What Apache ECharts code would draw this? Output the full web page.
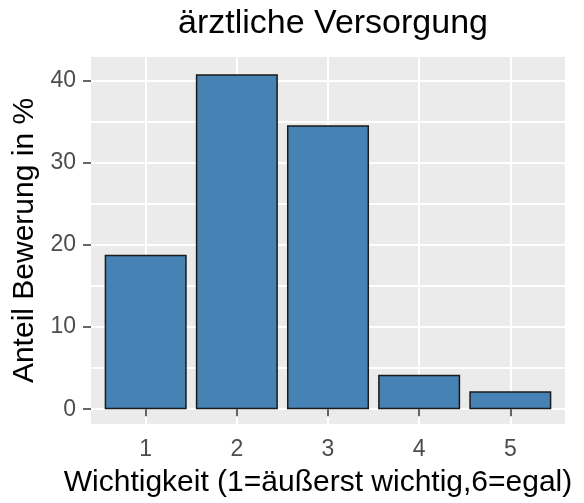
<!DOCTYPE html>
<html lang="de">
<head>
  <meta charset="UTF-8">
  <title>ärztliche Versorgung</title>
  <script src="https://cdn.jsdelivr.net/npm/echarts@6/dist/echarts.min.js"></script>
  <style>
    html, body { margin: 0; padding: 0; background: #fff; }
    #chart { width: 584px; height: 503px; }
  </style>
</head>
<body>
<div id="chart"></div>
<script>
  // Daten
  var kategorien = [1, 2, 3, 4, 5];
  var anteile = [18.8, 40.8, 34.6, 4.2, 2.2];
  var yTicks = [0, 10, 20, 30, 40];
  var yMinor = [5, 15, 25, 35];

  // Panelgrenzen wie bei ggplot (diskrete Achse +0.6, stetige ca. 5%)
  var xMin = 0.4, xMax = 5.6;
  var yMin = -1.8, yMax = 42.9;

  var gridLeft = 91, gridRight = 19, gridTop = 57, gridBottom = 78;
  var gridW = 584 - gridLeft - gridRight;
  var barW = gridW / (xMax - xMin) * 0.9;

  var font = 'Liberation Sans, Arial, sans-serif';

  var myChart = echarts.init(document.getElementById('chart'), null, {renderer: 'canvas'});

  var option = {
    animation: false,
    title: {
      text: 'ärztliche Versorgung',
      left: gridLeft + gridW / 2,
      textAlign: 'center',
      top: 2,
      textStyle: {fontFamily: font, fontSize: 34, fontWeight: 'normal', color: '#000'}
    },
    grid: {
      left: gridLeft, right: gridRight, top: gridTop, bottom: gridBottom,
      show: true, backgroundColor: '#EBEBEB', borderWidth: 0
    },
    xAxis: {
      type: 'value',
      min: xMin, max: xMax,
      name: 'Wichtigkeit (1=äußerst wichtig,6=egal)',
      nameLocation: 'middle',
      nameGap: 44,
      nameTextStyle: {fontFamily: font, fontSize: 30, color: '#000', padding: [0, 20, 0, 0]},
      axisLine: {show: false},
      axisTick: {show: true, length: 7, customValues: kategorien, lineStyle: {color: '#333', width: 1.5}},
      axisLabel: {customValues: kategorien, margin: 14, fontFamily: font, fontSize: 23, color: '#4D4D4D'},
      splitLine: {show: true, lineStyle: {color: '#fff', width: 2}}
    },
    yAxis: {
      type: 'value',
      min: yMin, max: yMax,
      name: 'Anteil Bewerung in %',
      nameLocation: 'middle',
      nameGap: 47,
      nameTextStyle: {fontFamily: font, fontSize: 30, color: '#000'},
      axisLine: {show: false},
      axisTick: {show: true, length: 8, customValues: yTicks, lineStyle: {color: '#333', width: 1.5}},
      axisLabel: {customValues: yTicks, margin: 15, fontFamily: font, fontSize: 23, color: '#4D4D4D'},
      splitLine: {show: true, lineStyle: {color: '#fff', width: 2}}
    },
    series: [
      {
        // unsichtbare Hilfsserie, traegt nur die feinen Gitterlinien
        type: 'scatter',
        silent: true,
        symbolSize: 0,
        data: kategorien.map(function (k) { return [k, 0]; }),
        markLine: {
          silent: true,
          symbol: ['none', 'none'],
          label: {show: false},
          emphasis: {disabled: true},
          animation: false,
          lineStyle: {color: '#ffffff', width: 2, type: 'solid', opacity: 1},
          data: yMinor.map(function (v) { return {yAxis: v}; })
        }
      },
      {
        type: 'bar',
        z: 10,
        barWidth: barW,
        itemStyle: {color: '#4682B4', borderColor: '#1a1a1a', borderWidth: 1.5},
        data: kategorien.map(function (k, i) { return [k, anteile[i]]; })
      }
    ]
  };

  option && myChart.setOption(option);
</script>
</body>
</html>
